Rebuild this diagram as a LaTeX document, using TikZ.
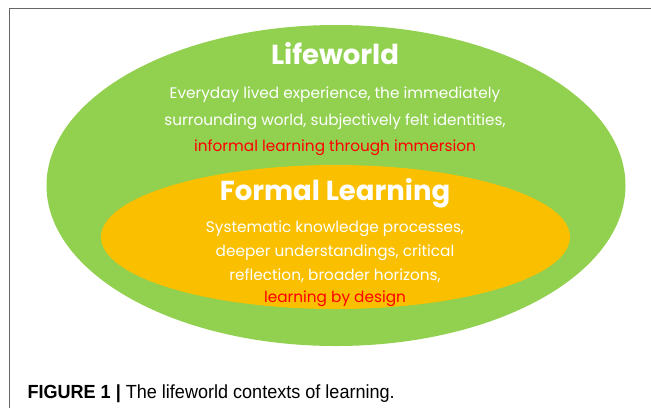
\documentclass[tikz,border=0pt]{standalone}
\usepackage{fontspec}
\setmainfont{Poppins}
\newfontfamily\capfont[FakeStretch=0.95]{Liberation Sans}
\usetikzlibrary{shapes.geometric}
\definecolor{lwgreen}{HTML}{92D050}
\definecolor{florange}{HTML}{FAC000}
\definecolor{hlred}{HTML}{FF0000}
\begin{document}
\begin{tikzpicture}
            [x=1pt, y=-1pt,
             zone/.style = {ellipse, inner sep = 0pt},
             heading/.style = {text=white, font=\fontsize{27.5}{30}\selectfont\bfseries},
             body/.style = {text=white, align=center, font=\fontsize{15.3}{27}\selectfont}]
            \useasboundingbox (0,0) rectangle (651,408);
            \draw[gray!80!black] (651,8.5) -- (9,8.5) -- (9,408);
            \node[zone, fill=lwgreen, minimum width=579pt, minimum height=321pt] (lifeworld) at (336,185.5) {};
            \node[zone, fill=florange, minimum width=469pt, minimum height=144pt] (formal) at (335.5,237) {};
            \node[heading] (lwtitle) at (335,54) {Lifeworld};
            \node[body] (lwtext) at (335,108) {Everyday lived experience, the immediately\\surrounding world, subjectively felt identities,};
            \node[body, text=hlred] (lwred) at (335,148) {informal learning through immersion};
            \node[heading] (fltitle) at (335,193) {Formal Learning};
            \node[body, font=\fontsize{15.3}{24}\selectfont] (fltext) at (335,251.5) {Systematic knowledge processes,\\deeper understandings, critical\\reflection, broader horizons,};
            \node[body, text=hlred] (flred) at (335,299) {learning by design};
            \node[anchor=west, font=\capfont\fontsize{19}{22}\selectfont] (caption) at (24,394) {\textbf{FIGURE 1 |} The lifeworld contexts of learning.};
        \end{tikzpicture}
\end{document}
